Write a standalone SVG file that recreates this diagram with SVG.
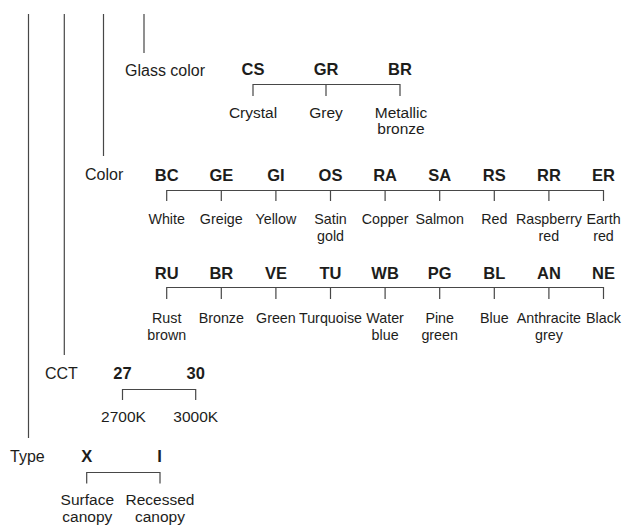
<svg xmlns="http://www.w3.org/2000/svg" width="624" height="526" viewBox="0 0 624 526">
<style>
text{font-family:"Liberation Sans",Arial,sans-serif;fill:#1d1d1b}
.cat{font-size:16px}
.code{font-size:16.5px;font-weight:bold;text-anchor:middle}
.d{font-size:15.5px;text-anchor:middle}
.dc{font-size:14.3px;text-anchor:middle}
.ln{stroke:#474747;stroke-width:1.2;fill:none}
</style>
<rect width="624" height="526" fill="#ffffff"/>
<g id="connectors" class="ln">
<path d="M28.5 14V438M64.3 14V355M103.5 14V156M144 14V53"/>
<path d="M253 96V84.5H400V96M326 84.5V96"/>
<path d="M166.7 201V190.5H603.5V201M221.3 190.5V201M275.9 190.5V201M330.5 190.5V201M385.1 190.5V201M439.7 190.5V201M494.3 190.5V201M548.9 190.5V201"/>
<path d="M166.7 299V287.5H603.5V299M221.3 287.5V299M275.9 287.5V299M330.5 287.5V299M385.1 287.5V299M439.7 287.5V299M494.3 287.5V299M548.9 287.5V299"/>
<path d="M122.5 400V389.5H195.7V400"/>
<path d="M86.7 483.5V472.5H160V483.5"/>
</g>
<g id="glass-color">
<text class="cat" x="125" y="75.5">Glass color</text>
<g id="glass-CS"><text class="code" x="253" y="75">CS</text><text class="d" x="253" y="117.5">Crystal</text></g>
<g id="glass-GR"><text class="code" x="326" y="75">GR</text><text class="d" x="326" y="117.5">Grey</text></g>
<g id="glass-BR"><text class="code" x="400" y="75">BR</text><text class="d" x="401" y="117.5">Metallic</text><text class="d" x="401" y="134">bronze</text></g>
</g>
<g id="color">
<text class="cat" x="85" y="180">Color</text>
<g id="color-BC"><text class="code" x="166.7" y="181">BC</text><text class="dc" x="166.7" y="223.5">White</text></g>
<g id="color-GE"><text class="code" x="221.3" y="181">GE</text><text class="dc" x="221.3" y="223.5">Greige</text></g>
<g id="color-GI"><text class="code" x="275.9" y="181">GI</text><text class="dc" x="275.9" y="223.5">Yellow</text></g>
<g id="color-OS"><text class="code" x="330.5" y="181">OS</text><text class="dc" x="330.5" y="223.5">Satin</text><text class="dc" x="330.5" y="240.5">gold</text></g>
<g id="color-RA"><text class="code" x="385.1" y="181">RA</text><text class="dc" x="385.1" y="223.5">Copper</text></g>
<g id="color-SA"><text class="code" x="439.7" y="181">SA</text><text class="dc" x="439.7" y="223.5">Salmon</text></g>
<g id="color-RS"><text class="code" x="494.3" y="181">RS</text><text class="dc" x="494.3" y="223.5">Red</text></g>
<g id="color-RR"><text class="code" x="548.9" y="181">RR</text><text class="dc" x="548.9" y="223.5">Raspberry</text><text class="dc" x="548.9" y="240.5">red</text></g>
<g id="color-ER"><text class="code" x="603.5" y="181">ER</text><text class="dc" x="603.5" y="223.5">Earth</text><text class="dc" x="603.5" y="240.5">red</text></g>
<g id="color-RU"><text class="code" x="166.7" y="278.5">RU</text><text class="dc" x="166.7" y="322.5">Rust</text><text class="dc" x="166.7" y="339.5">brown</text></g>
<g id="color-BR"><text class="code" x="221.3" y="278.5">BR</text><text class="dc" x="221.3" y="322.5">Bronze</text></g>
<g id="color-VE"><text class="code" x="275.9" y="278.5">VE</text><text class="dc" x="275.9" y="322.5">Green</text></g>
<g id="color-TU"><text class="code" x="330.5" y="278.5">TU</text><text class="dc" x="330.5" y="322.5">Turquoise</text></g>
<g id="color-WB"><text class="code" x="385.1" y="278.5">WB</text><text class="dc" x="385.1" y="322.5">Water</text><text class="dc" x="385.1" y="339.5">blue</text></g>
<g id="color-PG"><text class="code" x="439.7" y="278.5">PG</text><text class="dc" x="439.7" y="322.5">Pine</text><text class="dc" x="439.7" y="339.5">green</text></g>
<g id="color-BL"><text class="code" x="494.3" y="278.5">BL</text><text class="dc" x="494.3" y="322.5">Blue</text></g>
<g id="color-AN"><text class="code" x="548.9" y="278.5">AN</text><text class="dc" x="548.9" y="322.5">Anthracite</text><text class="dc" x="548.9" y="339.5">grey</text></g>
<g id="color-NE"><text class="code" x="603.5" y="278.5">NE</text><text class="dc" x="603.5" y="322.5">Black</text></g>
</g>
<g id="cct">
<text class="cat" x="45" y="379">CCT</text>
<g id="cct-27"><text class="code" x="122.5" y="379">27</text><text class="d" x="123.5" y="421.5">2700K</text></g>
<g id="cct-30"><text class="code" x="195.7" y="379">30</text><text class="d" x="195.7" y="421.5">3000K</text></g>
</g>
<g id="type">
<text class="cat" x="10" y="461.5">Type</text>
<g id="type-X"><text class="code" x="86.7" y="461.5">X</text><text class="d" x="87.3" y="505">Surface</text><text class="d" x="87.3" y="521.5">canopy</text></g>
<g id="type-I"><text class="code" x="159.5" y="461.5">I</text><text class="d" x="160" y="505">Recessed</text><text class="d" x="160" y="521.5">canopy</text></g>
</g>
</svg>
